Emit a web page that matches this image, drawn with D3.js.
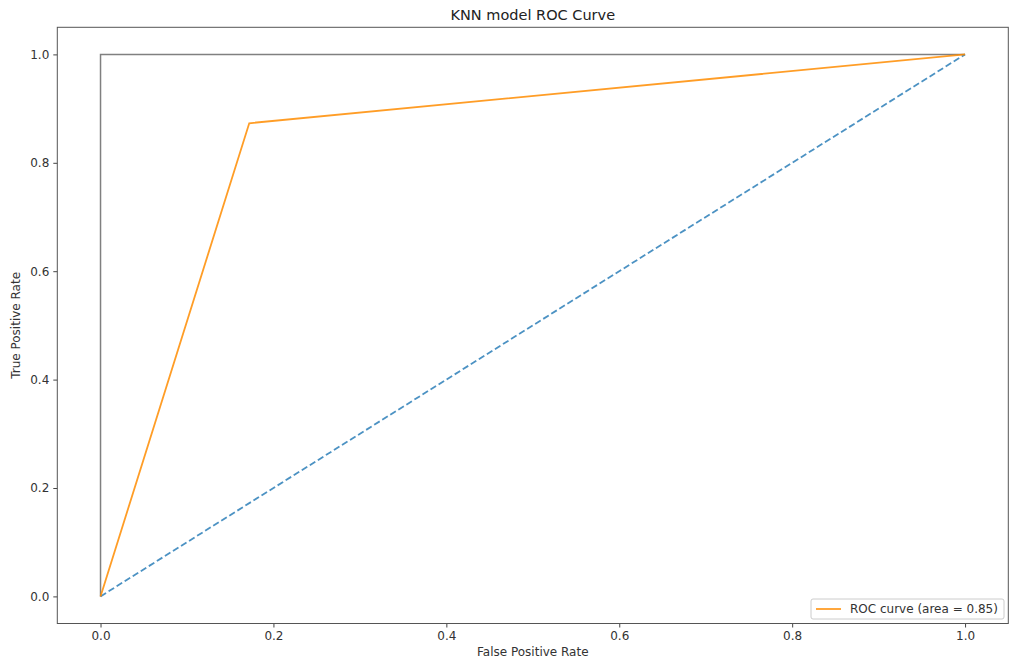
<!DOCTYPE html>
<html>
<head>
<meta charset="utf-8">
<script src="https://cdn.jsdelivr.net/npm/d3@7"></script>
<style>
  body { margin: 0; background: #fff; }
  svg { font-family: "DejaVu Sans", sans-serif; }
</style>
</head>
<body>
<div id="chart"></div>
<script>
// ROC curve points (KNN)
const fpr = [0, 0.172, 1];
const tpr = [0, 0.873, 1];
// perfect classifier reference
const perfectX = [0, 0, 1];
const perfectY = [0, 1, 1];
// chance line
const chanceX = [0, 1];
const chanceY = [0, 1];
const xTicks = [0, 0.2, 0.4, 0.6, 0.8, 1.0];
const yTicks = [0, 0.2, 0.4, 0.6, 0.8, 1.0];
const legendLabel = 'ROC curve (area = 0.85)';

const width = 1014;
const height = 661;
const frame = { left: 57.3, right: 1008.3, top: 27.3, bottom: 623.5 };

const svg = d3.select('#chart')
  .append('svg')
  .attr('width', width)
  .attr('height', height);

const xScale = d3.scaleLinear()
  .domain([-0.05, 1.05])
  .range([frame.left, frame.right]);

const yScale = d3.scaleLinear()
  .domain([-0.05, 1.05])
  .range([frame.bottom, frame.top]);

const line = d3.line()
  .x(d => xScale(d[0]))
  .y(d => yScale(d[1]));

const zip = (a, b) => a.map((v, i) => [v, b[i]]);

// Lines
svg.append('path')
  .attr('d', line(zip(perfectX, perfectY)))
  .attr('fill', 'none')
  .attr('stroke', '#808080')
  .attr('stroke-width', 1.5);

svg.append('path')
  .attr('d', line(zip(chanceX, chanceY)))
  .attr('fill', 'none')
  .attr('stroke', '#1f77b4')
  .attr('stroke-opacity', 0.8)
  .attr('stroke-width', 1.8)
  .attr('stroke-dasharray', '6.5,3');

svg.append('path')
  .attr('d', line(zip(fpr, tpr)))
  .attr('fill', 'none')
  .attr('stroke', '#ff8c00')
  .attr('stroke-opacity', 0.85)
  .attr('stroke-width', 1.8);

// Axes
const xAxis = svg.append('g')
  .attr('transform', `translate(0,${frame.bottom})`)
  .call(d3.axisBottom(xScale).tickValues(xTicks).tickFormat(d3.format('.1f')).tickSize(4).tickPadding(4));

const yAxis = svg.append('g')
  .attr('transform', `translate(${frame.left},0)`)
  .call(d3.axisLeft(yScale).tickValues(yTicks).tickFormat(d3.format('.1f')).tickSize(4).tickPadding(4));

[xAxis, yAxis].forEach(ax => {
  ax.select('.domain').remove();
  ax.selectAll('line').attr('stroke', '#444');
  ax.selectAll('text')
    .attr('fill', '#333')
    .style('font-size', '12px')
    .style('font-family', '"DejaVu Sans", sans-serif');
});

// Frame
svg.append('rect')
  .attr('x', frame.left)
  .attr('y', frame.top)
  .attr('width', frame.right - frame.left)
  .attr('height', frame.bottom - frame.top)
  .attr('fill', 'none')
  .attr('stroke', '#555')
  .attr('stroke-width', 1);

// Title and labels
svg.append('text')
  .attr('x', (frame.left + frame.right) / 2)
  .attr('y', 20)
  .attr('text-anchor', 'middle')
  .attr('fill', '#222')
  .style('font-size', '14.5px')
  .text('KNN model ROC Curve');

svg.append('text')
  .attr('x', (frame.left + frame.right) / 2)
  .attr('y', 656)
  .attr('text-anchor', 'middle')
  .attr('fill', '#333')
  .style('font-size', '12px')
  .text('False Positive Rate');

svg.append('text')
  .attr('transform', `translate(20,${(frame.top + frame.bottom) / 2}) rotate(-90)`)
  .attr('text-anchor', 'middle')
  .attr('fill', '#333')
  .style('font-size', '12px')
  .text('True Positive Rate');

// Legend
const legend = svg.append('g').attr('transform', 'translate(811,599)');
legend.append('rect')
  .attr('width', 193)
  .attr('height', 20)
  .attr('rx', 2)
  .attr('fill', '#fff')
  .attr('stroke', '#ccc');
legend.append('line')
  .attr('x1', 5).attr('x2', 30)
  .attr('y1', 10).attr('y2', 10)
  .attr('stroke', '#ff8c00')
  .attr('stroke-opacity', 0.85)
  .attr('stroke-width', 1.8);
legend.append('text')
  .attr('x', 39)
  .attr('y', 14)
  .attr('fill', '#333')
  .style('font-size', '12px')
  .text(legendLabel);
</script>
</body>
</html>
